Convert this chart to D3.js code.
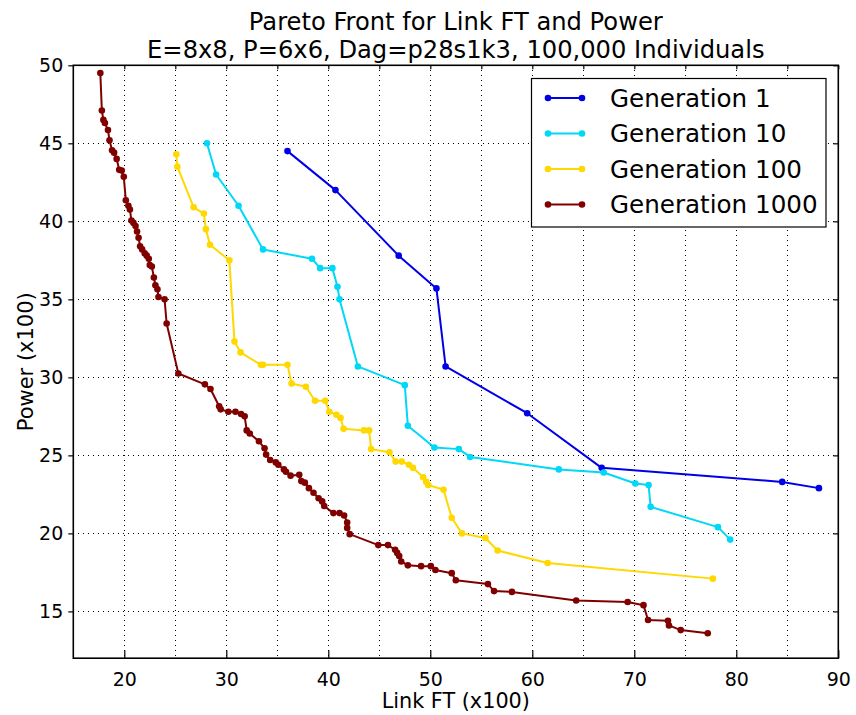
<!DOCTYPE html>
<html>
<head>
<meta charset="utf-8">
<script src="https://cdn.jsdelivr.net/npm/d3@7"></script>
<style>
  html, body { margin: 0; padding: 0; background: #fff; }
  svg { display: block; font-family: "DejaVu Sans", sans-serif; }
</style>
</head>
<body>
<svg id="chart" width="856" height="715"></svg>
<script>
// Pareto fronts: Link FT (x100) vs Power (x100), one series per generation
const seriesNames = ["Generation 1", "Generation 10", "Generation 100", "Generation 1000"];
const seriesColors = ["#0000e8", "#00d8f8", "#ffd800", "#800000"];

const gen1X = [36.0, 40.7, 46.9, 50.6, 51.5, 59.5, 66.8, 84.5, 88.1];
const gen1Y = [44.5, 42.0, 37.8, 35.7, 30.7, 27.7, 24.2, 23.3, 22.9];

const gen10X = [28.1, 29.0, 31.2, 33.6, 38.4, 39.2, 40.4, 40.9, 41.1, 42.9, 47.5, 47.8, 50.4, 52.8, 53.9, 62.6, 67.0, 70.1, 71.4, 71.6, 78.2, 79.4];
const gen10Y = [45.0, 43.0, 41.0, 38.2, 37.6, 37.0, 37.0, 35.8, 35.0, 30.7, 29.5, 26.9, 25.5, 25.4, 24.9, 24.1, 23.9, 23.2, 23.1, 21.7, 20.4, 19.6];

const gen100X = [25.1, 25.2, 26.8, 27.8, 28.0, 28.4, 30.3, 30.8, 31.4, 33.4, 33.6, 36.0, 36.4, 37.8, 38.7, 39.7, 40.1, 40.8, 41.2, 41.5, 43.5, 44.0, 44.2, 46.0, 46.6, 47.2, 47.9, 48.3, 49.3, 49.6, 49.8, 51.3, 52.1, 53.1, 55.4, 56.6, 61.5, 77.7];
const gen100Y = [44.3, 43.5, 40.9, 40.5, 39.5, 38.5, 37.5, 32.3, 31.6, 30.8, 30.8, 30.8, 29.6, 29.4, 28.5, 28.5, 27.8, 27.6, 27.4, 26.7, 26.6, 26.6, 25.4, 25.2, 24.6, 24.6, 24.4, 24.2, 23.6, 23.3, 23.1, 22.8, 21.0, 20.0, 19.7, 18.9, 18.1, 17.1];

const gen1000X = [17.65, 17.8, 17.95, 18.1, 18.4, 18.55, 18.8, 19.0, 19.25, 19.5, 19.75, 19.95, 20.15, 20.4, 20.55, 20.7, 20.9, 21.1, 21.25, 21.4, 21.55, 21.75, 22.0, 22.2, 22.4, 22.5, 22.7, 22.9, 23.05, 23.25, 23.35, 23.95, 24.15, 25.3, 27.9, 28.45, 29.3, 29.45, 30.2, 30.9, 31.45, 31.8, 32.0, 32.3, 33.2, 33.75, 33.9, 34.3, 34.85, 35.1, 35.65, 35.85, 36.3, 37.15, 37.35, 37.7, 38.1, 38.55, 39.05, 39.4, 39.6, 40.5, 41.1, 41.55, 41.85, 41.85, 42.1, 44.9, 45.85, 46.55, 46.75, 46.95, 47.15, 47.8, 49.1, 50.05, 50.5, 52.1, 52.5, 55.65, 56.25, 58.0, 64.3, 69.35, 70.9, 71.35, 73.3, 73.4, 74.55, 77.2];
const gen1000Y = [49.5, 47.1, 46.5, 46.3, 45.85, 45.2, 44.55, 44.4, 44.0, 43.3, 43.25, 42.85, 41.35, 41.0, 40.75, 40.05, 39.9, 39.7, 39.35, 38.95, 38.4, 38.2, 37.95, 37.8, 37.6, 37.2, 37.1, 36.4, 35.9, 35.65, 35.15, 35.0, 33.45, 30.25, 29.55, 29.25, 28.15, 27.95, 27.8, 27.8, 27.65, 27.5, 26.6, 26.4, 25.9, 25.45, 25.05, 24.7, 24.55, 24.4, 24.1, 23.95, 23.7, 23.75, 23.35, 23.25, 22.9, 22.6, 22.25, 22.05, 21.75, 21.3, 21.3, 21.15, 20.7, 20.35, 19.95, 19.25, 19.25, 18.95, 18.75, 18.55, 18.2, 17.95, 17.9, 17.9, 17.65, 17.45, 17.0, 16.75, 16.3, 16.25, 15.7, 15.6, 15.4, 14.45, 14.4, 14.1, 13.8, 13.6];

const xTicks = [20, 30, 40, 50, 60, 70, 80, 90];
const xGrid = [20, 25, 30, 35, 40, 45, 50, 55, 60, 65, 70, 75, 80, 85];
const yTicks = [15, 20, 25, 30, 35, 40, 45, 50];
const yGrid = [15, 20, 25, 30, 35, 40, 45];

const titleLines = ["Pareto Front for Link FT and Power", "E=8x8, P=6x6, Dag=p28s1k3, 100,000 Individuals"];
const xLabel = "Link FT (x100)";
const yLabel = "Power (x100)";

const seriesX = [gen1X, gen10X, gen100X, gen1000X];
const seriesY = [gen1Y, gen10Y, gen100Y, gen1000Y];
const series = seriesNames.map((name, i) => ({
  name,
  color: seriesColors[i],
  points: seriesX[i].map((x, j) => ({ x, y: seriesY[i][j] }))
}));

const svg = d3.select("#chart");
const plotL = 73.3, plotR = 838.3, plotT = 65.3, plotB = 658.2;

const x = d3.scaleLinear().domain([15, 90]).range([plotL, plotR]);
const y = d3.scaleLinear().domain([12, 50]).range([plotB, plotT]);

svg.append("rect").attr("width", 856).attr("height", 715).attr("fill", "#fff");

// dotted grid
const grid = svg.append("g").attr("stroke", "#000").attr("stroke-width", 1)
  .attr("stroke-dasharray", "1,4").attr("shape-rendering", "crispEdges");
grid.selectAll("line.gx").data(xGrid).join("line").attr("class", "gx")
  .attr("x1", d => Math.round(x(d)) + 0.5).attr("x2", d => Math.round(x(d)) + 0.5)
  .attr("y1", plotT).attr("y2", plotB);
grid.selectAll("line.gy").data(yGrid).join("line").attr("class", "gy")
  .attr("y1", d => Math.round(y(d)) + 0.5).attr("y2", d => Math.round(y(d)) + 0.5)
  .attr("x1", plotL).attr("x2", plotR);

// axes
const fmt = d3.format("d");
const xAxisB = d3.axisBottom(x).tickValues(xTicks).tickSizeInner(-8).tickSizeOuter(0).tickPadding(14).tickFormat(fmt);
const xAxisT = d3.axisTop(x).tickValues(xGrid.concat([90])).tickSizeInner(-4).tickSizeOuter(0).tickFormat("");
const yAxisL = d3.axisLeft(y).tickValues(yTicks).tickSizeInner(5).tickSizeOuter(0).tickPadding(5).tickFormat(fmt);
const yAxisR = d3.axisRight(y).tickValues(yTicks).tickSizeInner(-5).tickSizeOuter(0).tickFormat("");

function styleAxis(g) {
  g.select(".domain").remove();
  g.selectAll(".tick line").attr("stroke", "#000").attr("stroke-width", 1.2);
  g.selectAll(".tick text").attr("fill", "#000").attr("font-size", 19)
    .attr("font-family", "DejaVu Sans, sans-serif");
}
svg.append("g").attr("transform", `translate(0,${plotB})`).call(xAxisB).call(styleAxis);
svg.append("g").attr("transform", `translate(0,${plotT})`).call(xAxisT).call(styleAxis);
svg.append("g").attr("transform", `translate(${plotL},0)`).call(yAxisL).call(styleAxis);
svg.append("g").attr("transform", `translate(${plotR},0)`).call(yAxisR).call(styleAxis);

// series lines and markers
const line = d3.line().x(d => x(d.x)).y(d => y(d.y));
const plot = svg.append("g");
series.forEach(s => {
  const g = plot.append("g");
  g.append("path").datum(s.points).attr("d", line)
    .attr("fill", "none").attr("stroke", s.color).attr("stroke-width", 2)
    .attr("stroke-linejoin", "round");
  g.selectAll("circle").data(s.points).join("circle")
    .attr("cx", d => x(d.x)).attr("cy", d => y(d.y)).attr("r", 3.3)
    .attr("fill", s.color);
});

// frame
svg.append("rect").attr("x", plotL).attr("y", plotT)
  .attr("width", plotR - plotL).attr("height", plotB - plotT)
  .attr("fill", "none").attr("stroke", "#000").attr("stroke-width", 1.6);

// two-line title
titleLines.forEach((t, i) => {
  svg.append("text").attr("text-anchor", "middle").attr("font-size", 24.2)
    .attr("x", (plotL + plotR) / 2).attr("y", 29.5 + i * 28.2).text(t);
});

// axis labels
svg.append("text").attr("x", (plotL + plotR) / 2).attr("y", 708)
  .attr("text-anchor", "middle").attr("font-size", 20.8).text(xLabel);
svg.append("text").attr("transform", `translate(33,${(plotT + plotB) / 2}) rotate(-90)`)
  .attr("text-anchor", "middle").attr("font-size", 21).text(yLabel);

// legend
const legend = svg.append("g");
legend.append("rect").attr("x", 531.5).attr("y", 78.5).attr("width", 294.5).attr("height", 148.5)
  .attr("fill", "#fff").attr("stroke", "#000").attr("stroke-width", 1.2);
const ly = d3.scalePoint().domain(seriesNames).range([98, 204.5]);
series.forEach(s => {
  const cy = ly(s.name);
  legend.append("line").attr("x1", 548).attr("x2", 582).attr("y1", cy).attr("y2", cy)
    .attr("stroke", s.color).attr("stroke-width", 2);
  [548, 582].forEach(cx => legend.append("circle").attr("cx", cx).attr("cy", cy).attr("r", 3.3).attr("fill", s.color));
  legend.append("text").attr("x", 610).attr("y", cy + 8.7).attr("font-size", 24.6).text(s.name);
});
</script>
</body>
</html>
